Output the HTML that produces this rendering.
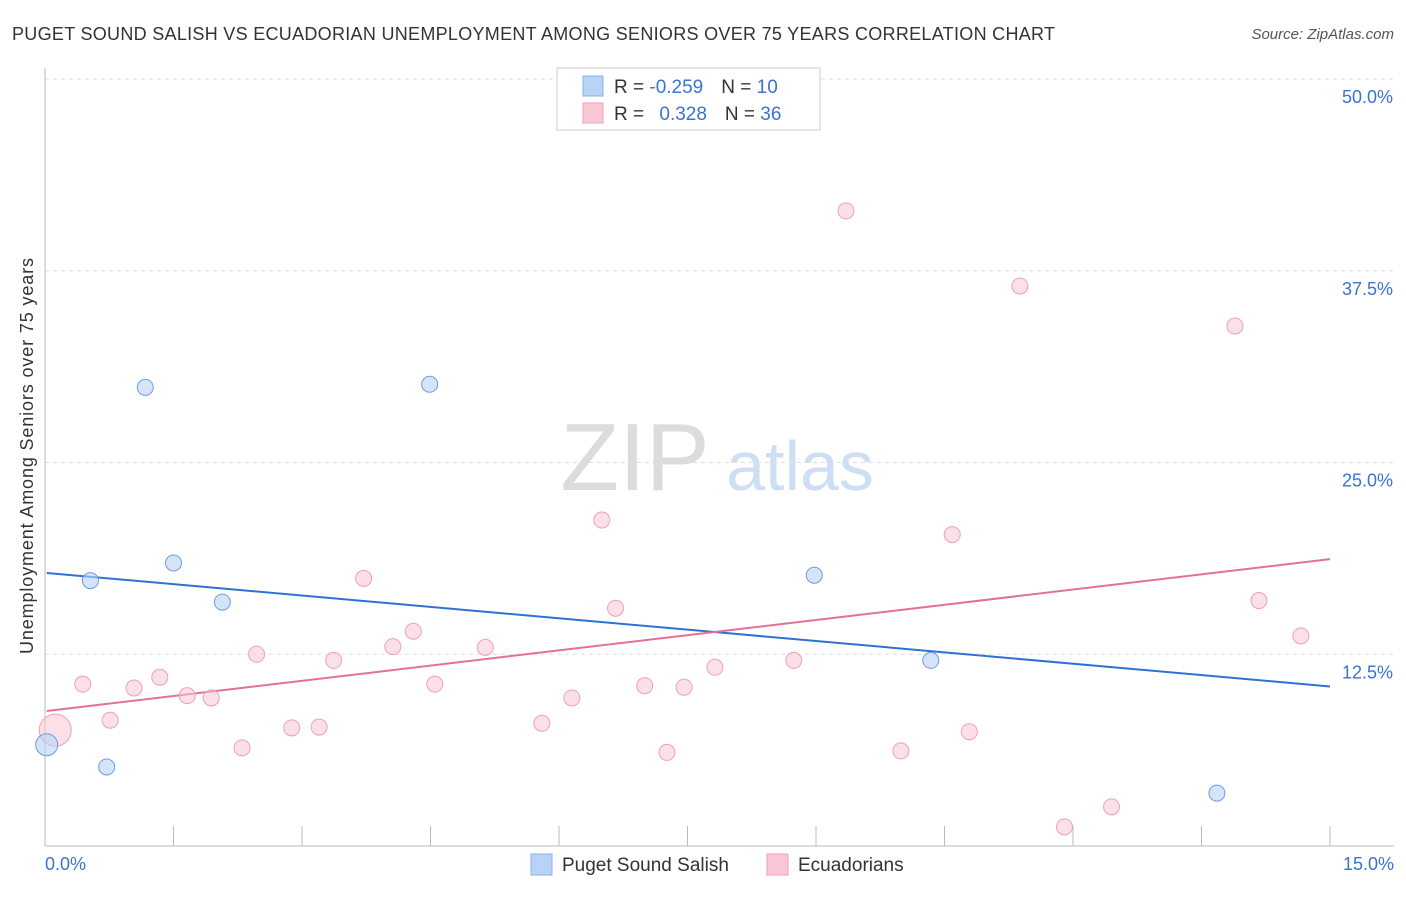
<!DOCTYPE html>
<html><head><meta charset="utf-8">
<style>
body{margin:0;background:#fff;font-family:"Liberation Sans",sans-serif;}
svg text{font-family:"Liberation Sans",sans-serif;}
</style></head>
<body>
<svg id="chart" width="1406" height="892" xmlns="http://www.w3.org/2000/svg">
<text x="12" y="40" font-size="18" fill="#333" textLength="1043">PUGET SOUND SALISH VS ECUADORIAN UNEMPLOYMENT AMONG SENIORS OVER 75 YEARS CORRELATION CHART</text>
<text x="1394" y="39" font-size="15" fill="#555" text-anchor="end" font-style="italic">Source: ZipAtlas.com</text>
<text transform="translate(33,456) rotate(-90)" font-size="18" fill="#333" text-anchor="middle" textLength="396">Unemployment Among Seniors over 75 years</text>
<g>
<text x="635" y="490" font-size="96" fill="#dcdcdc" text-anchor="middle" font-family="Liberation Serif">ZIP</text>
<text x="800" y="490" font-size="70" fill="#cfdff3" text-anchor="middle">atlas</text>
</g>
<g id="grid"></g>
<g id="axes"></g>
<g id="lines"></g>
<g id="points"></g>
<g>
<rect x="557" y="68" width="263" height="62" fill="#fff" stroke="#ccc"/>
<rect x="583" y="76" width="20" height="20" fill="#b8d3f5" stroke="#8ab2e8"/>
<rect x="583" y="103" width="20" height="20" fill="#f9c6d5" stroke="#eea0b8"/>
<text x="614" y="93" font-size="19" fill="#333">R = <tspan fill="#3a73d0">-0.259</tspan><tspan dx="18">N = </tspan><tspan fill="#3a73d0">10</tspan></text>
<text x="614" y="120" font-size="19" fill="#333">R = <tspan dx="10" fill="#3a73d0">0.328</tspan><tspan dx="18">N = </tspan><tspan fill="#3a73d0">36</tspan></text>
</g>
<g>
<rect x="531" y="854" width="21" height="21" fill="#b8d3f5" stroke="#8ab2e8"/>
<text x="562" y="871" font-size="19" fill="#333">Puget Sound Salish</text>
<rect x="767" y="854" width="21" height="21" fill="#f9c6d5" stroke="#eea0b8"/>
<text x="798" y="871" font-size="19" fill="#333">Ecuadorians</text>
</g>
</svg>
<script>
const yTicks=[12.5,25,37.5,50];
const yTickLabels=["12.5%","25.0%","37.5%","50.0%"];
const xTickLabels=["0.0%","15.0%"];
const salishX=[0.02,0.53,0.72,1.17,1.5,2.07,4.49,8.98,10.34,13.68];
const salishY=[6.6,17.3,5.15,29.9,18.45,15.9,30.1,17.65,12.1,3.45];
const ecuX=[0.12,0.44,0.76,1.04,1.34,1.66,1.94,2.3,2.47,2.88,3.2,3.37,3.72,4.06,4.3,4.55,5.14,5.8,6.15,6.5,6.66,7.0,7.26,7.46,7.82,8.74,9.35,9.99,10.59,10.79,11.38,11.9,12.45,13.89,14.17,14.66];
const ecuY=[7.55,10.55,8.2,10.3,11.0,9.8,9.65,6.4,12.5,7.7,7.75,12.1,17.45,13.0,14.0,10.55,12.95,8.0,9.65,21.25,15.5,10.45,6.1,10.35,11.65,12.1,41.4,6.2,20.3,7.45,36.5,1.25,2.55,33.9,16.0,13.7];
const salishLine=[[0.02,17.8],[15,10.4]];
const ecuLine=[[0.02,8.8],[15,18.7]];
const NS="http://www.w3.org/2000/svg";
const X=v=>45+v*(1285/15);
const Y=v=>846-v*15.34;
function mk(tag,attrs,parent){const e=document.createElementNS(NS,tag);for(const k in attrs)e.setAttribute(k,attrs[k]);document.getElementById(parent).appendChild(e);return e;}
yTicks.forEach((t,i)=>{
 const g=mk('line',{x1:45,x2:1394,y1:Y(t),y2:Y(t),stroke:'#ddd','stroke-dasharray':'4,4'},'grid');
 
 
 const l=mk('text',{x:1393,y:Y(t)+24,'font-size':18,fill:'#3a73d0','text-anchor':'end'},'grid');
 l.textContent=yTickLabels[i];
 
 
});
const ax=mk('line',{x1:45,x2:45,y1:68,y2:846,stroke:'#bbb'},'axes');


const bx=mk('line',{x1:45,x2:1394,y1:846,y2:846,stroke:'#bbb'},'axes');


for(let i=0;i<=10;i++){
 const t=mk('line',{x1:X(i*1.5),x2:X(i*1.5),y1:826,y2:846,stroke:'#bbb'},'axes');
 
 
}
[[0,'start',45],[15,'end',1394]].forEach((d,i)=>{
 const l=mk('text',{x:d[2],y:870,'font-size':18,fill:'#3a73d0','text-anchor':d[1]},'axes');
 l.textContent=xTickLabels[i];
 
 
});
ecuX.forEach((x,i)=>{
 const c=mk('circle',{cx:X(x),cy:Y(ecuY[i]),r:i==0?16:8,fill:'#f9c6d5','fill-opacity':0.55,stroke:'#eea0b8','stroke-width':1},'points');
 
 
});
salishX.forEach((x,i)=>{
 const c=mk('circle',{cx:X(x),cy:Y(salishY[i]),r:i==0?11:8,fill:'#b8d3f5','fill-opacity':0.6,stroke:'#6f9be0','stroke-width':1},'points');
 
 
});
const l1=mk('line',{x1:X(salishLine[0][0]),y1:Y(salishLine[0][1]),x2:X(salishLine[1][0]),y2:Y(salishLine[1][1]),stroke:'#2f72d6','stroke-width':2},'lines');


const l2=mk('line',{x1:X(ecuLine[0][0]),y1:Y(ecuLine[0][1]),x2:X(ecuLine[1][0]),y2:Y(ecuLine[1][1]),stroke:'#e4709a','stroke-width':2},'lines');


</script>
</body></html>
